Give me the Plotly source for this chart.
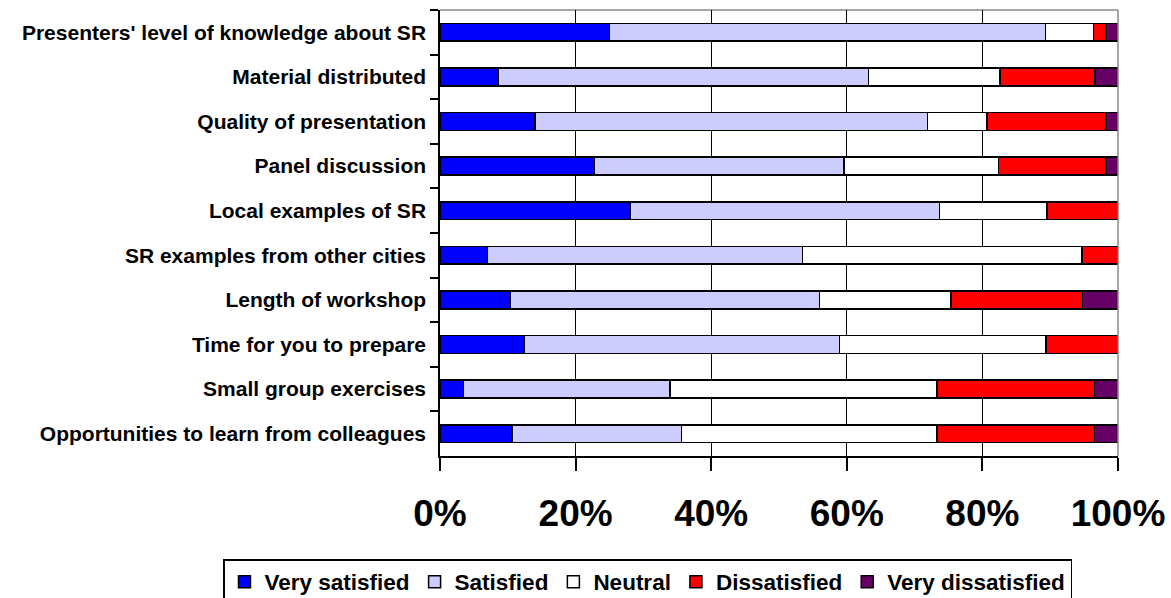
import plotly.graph_objects as go

categories = [
    "Presenters' level of knowledge about SR",
    "Material distributed",
    "Quality of presentation",
    "Panel discussion",
    "Local examples of SR",
    "SR examples from other cities",
    "Length of workshop",
    "Time for you to prepare",
    "Small group exercises",
    "Opportunities to learn from colleagues",
]

very_satisfied = [25.0, 8.6, 14.0, 22.8, 28.1, 7.0, 10.4, 12.4, 3.5, 10.6]
satisfied = [64.3, 54.6, 57.9, 36.8, 45.6, 46.5, 45.6, 46.5, 30.4, 25.0]
neutral = [7.1, 19.4, 8.8, 22.8, 15.8, 41.2, 19.4, 30.5, 39.4, 37.7]
dissatisfied = [1.8, 14.0, 17.5, 15.8, 10.5, 5.3, 19.4, 10.6, 23.2, 23.2]
very_dissatisfied = [1.8, 3.4, 1.8, 1.8, 0.0, 0.0, 5.2, 0.0, 3.5, 3.5]

series_names = ["Very satisfied", "Satisfied", "Neutral", "Dissatisfied", "Very dissatisfied"]
series_values = [very_satisfied, satisfied, neutral, dissatisfied, very_dissatisfied]
series_colors = ["#0000FF", "#CCCCFF", "#FFFFFF", "#FF0000", "#660066"]

x_ticks = [0, 20, 40, 60, 80, 100]
x_tick_labels = ["0%", "20%", "40%", "60%", "80%", "100%"]

FONT = "Liberation Sans, Arial, sans-serif"

fig = go.Figure()
for name, vals, col in zip(series_names, series_values, series_colors):
    fig.add_trace(go.Bar(
        y=categories, x=vals, name=name, orientation="h",
        marker=dict(color=col, line=dict(color="black", width=1.5)),
        width=0.4,
    ))

fig.update_layout(
    barmode="stack",
    width=1171, height=598,
    margin=dict(l=440, r=53, t=10, b=142, autoexpand=False),
    plot_bgcolor="white", paper_bgcolor="white",
    font=dict(family=FONT, color="black"),
    showlegend=True,
    legend=dict(
        orientation="h",
        x=(223 - 440) / 678, xanchor="left", y=-(559 - 456) / 446, yanchor="top",
        font=dict(family=FONT, size=22.5, weight="bold", color="black"),
        bordercolor="black", borderwidth=1.5, bgcolor="white",
        itemwidth=30, traceorder="normal",
    ),
)

fig.update_xaxes(
    range=[0, 100], tickvals=x_ticks, ticktext=x_tick_labels,
    showgrid=True, gridcolor="black", gridwidth=1.2,
    showline=True, linecolor="black", linewidth=1.5,
    ticks="outside", ticklen=13, tickcolor="black", tickwidth=1.5,
    tickfont=dict(family=FONT, size=37, weight="bold", color="black"),
    ticklabelstandoff=11, automargin=False,
    zeroline=False, fixedrange=True,
)
fig.update_yaxes(
    categoryorder="array", categoryarray=categories, autorange="reversed",
    showline=True, linecolor="black", linewidth=1.5,
    ticks="outside", ticklen=8, tickcolor="black", tickwidth=1.5,
    tickson="boundaries",
    tickfont=dict(family=FONT, size=21, weight="bold", color="black"),
    ticklabelstandoff=8, automargin=False,
    showgrid=False, zeroline=False,
)

fig.add_shape(type="line", xref="x domain", yref="y domain", x0=0, x1=1, y0=1, y1=1,
              line=dict(color="#888888", width=1.5), layer="below")
fig.add_shape(type="line", xref="x domain", yref="y domain", x0=1, x1=1, y0=0, y1=1,
              line=dict(color="#888888", width=1.5), layer="above")

fig.write_html(
    "out.html",
    config={"displayModeBar": False},
    post_script="document.body.style.margin='0';document.body.style.padding='0';"
                "document.documentElement.style.overflow='hidden';",
)
